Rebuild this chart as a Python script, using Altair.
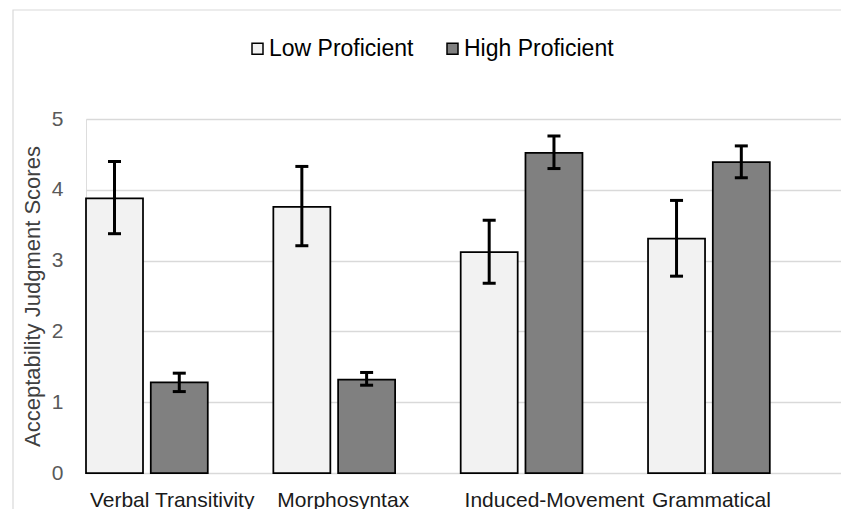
import altair as alt
import pandas as pd

categories = ["Verbal Transitivity", "Morphosyntax", "Induced-Movement", "Grammatical"]
groups = ["Low Proficient", "High Proficient"]
colors = ["#F2F2F2", "#808080"]

low_mean = [3.88, 3.76, 3.12, 3.31]
low_upper = [4.40, 4.33, 3.57, 3.85]
low_lower = [3.38, 3.21, 2.68, 2.78]

high_mean = [1.28, 1.32, 4.52, 4.39]
high_upper = [1.41, 1.42, 4.76, 4.62]
high_lower = [1.15, 1.24, 4.30, 4.17]

y_ticks = [0, 1, 2, 3, 4, 5]

rows = []
for i, c in enumerate(categories):
    rows.append(dict(category=c, group=groups[0], mean=low_mean[i], lo=low_lower[i], hi=low_upper[i]))
    rows.append(dict(category=c, group=groups[1], mean=high_mean[i], lo=high_lower[i], hi=high_upper[i]))
df = pd.DataFrame(rows)

FONT = "Liberation Sans"
W = 755
H = 354
Y_TITLE = "Acceptability Judgment Scores"

y_axis = alt.Axis(
    values=y_ticks, format="d", title=Y_TITLE,
    titleFontSize=22, titleFont=FONT, titleColor="#404040", titleFontWeight="normal",
    titlePadding=7,
    labelFontSize=21, labelFont=FONT, labelColor="#595959", labelPadding=23,
    ticks=False, tickSize=0, domain=False,
    gridColor="#D9D9D9", gridWidth=1.5,
)
y_scale = alt.Scale(domain=[0, 5], nice=False, zero=True)

x_enc = alt.X(
    "category:N",
    sort=categories,
    scale=alt.Scale(paddingInner=0.35, paddingOuter=0.19, align=0),
    axis=alt.Axis(
        title=None, labelAngle=0, labelAlign="left", labelOffset=-57,
        labelFontSize=21, labelFont=FONT, labelColor="#1a1a1a",
        labelPadding=16, ticks=False, tickSize=0, domain=False,
    ),
)
xoff = alt.XOffset("group:N", sort=groups, scale=alt.Scale(paddingInner=0.12, paddingOuter=0))

base = alt.Chart(df)

bars = base.mark_bar(stroke="black", strokeWidth=1.75).encode(
    x=x_enc,
    xOffset=xoff,
    y=alt.Y("mean:Q", scale=y_scale, axis=y_axis, title=Y_TITLE),
    fill=alt.Fill(
        "group:N", sort=groups,
        scale=alt.Scale(domain=groups, range=colors),
        legend=alt.Legend(
            title=None, orient="none", legendX=160, legendY=-82,
            direction="horizontal", symbolType="square", symbolSize=121,
            symbolStrokeColor="black", symbolStrokeWidth=1.5, symbolOpacity=1,
            labelFontSize=23, labelFont=FONT, labelColor="#000000",
            labelOffset=0, columnPadding=27, padding=0,
        ),
    ),
)

rules = base.mark_rule(color="black", strokeWidth=3).encode(
    x=alt.X("category:N", sort=categories),
    xOffset=alt.XOffset("group:N", sort=groups),
    y=alt.Y("lo:Q", scale=y_scale, axis=y_axis, title=Y_TITLE),
    y2="hi:Q",
)

caps_hi = base.mark_tick(color="black", size=13, thickness=3, opacity=1).encode(
    x=alt.X("category:N", sort=categories),
    xOffset=alt.XOffset("group:N", sort=groups),
    y=alt.Y("hi:Q", scale=y_scale, axis=y_axis, title=Y_TITLE),
)
caps_lo = base.mark_tick(color="black", size=13, thickness=3, opacity=1).encode(
    x=alt.X("category:N", sort=categories),
    xOffset=alt.XOffset("group:N", sort=groups),
    y=alt.Y("lo:Q", scale=y_scale, axis=y_axis, title=Y_TITLE),
)

border = alt.Chart(pd.DataFrame({"k": [0]})).mark_rect(
    fill="transparent", stroke="#D9D9D9", strokeWidth=1.2
).encode(
    x=alt.value(-73), x2=alt.value(W + 60), y=alt.value(-109), y2=alt.value(H + 120)
)

chart = alt.layer(border, bars, rules, caps_hi, caps_lo).properties(
    width=W, height=H,
    autosize=alt.AutoSizeParams(type="none"),
    padding={"left": 86, "top": 119, "right": 0, "bottom": 36},
).configure_view(strokeWidth=0, stroke="transparent").configure(font=FONT, background="white")

chart.save("out.html", embed_options={"renderer": "svg", "actions": False})
